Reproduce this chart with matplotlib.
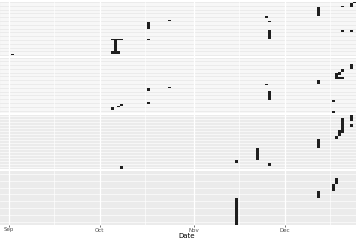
import datetime as dt
import matplotlib
matplotlib.use("Agg")
import matplotlib.pyplot as plt
import matplotlib.dates as mdates

YEAR = 2021

# number of rows (ids) shown in each facet
panel_rows = [40, 40, 18, 8]

# tile runs per facet: (first day, last day, first row, last row)
panel1 = [
    ("09-02", "09-02", 1, 1),
    ("10-05", "10-08", 12, 12),
    ("10-06", "10-06", 4, 11),
    ("10-05", "10-07", 2, 3),
    ("10-17", "10-17", 20, 24),
    ("10-17", "10-17", 12, 12),
    ("10-24", "10-24", 26, 26),
    ("11-25", "11-25", 28, 29),
    ("11-26", "11-26", 25, 25),
    ("11-26", "11-26", 13, 18),
    ("12-12", "12-12", 30, 35),
    ("12-20", "12-20", 36, 36),
    ("12-23", "12-23", 36, 38),
    ("12-24", "12-24", 39, 39),
    ("12-20", "12-20", 18, 18),
    ("12-23", "12-23", 18, 18),
]
panel2 = [
    ("10-17", "10-17", 16, 17),
    ("10-24", "10-24", 18, 18),
    ("10-17", "10-17", 6, 7),
    ("10-05", "10-05", 2, 3),
    ("10-07", "10-07", 4, 4),
    ("10-08", "10-08", 5, 5),
    ("11-25", "11-25", 20, 20),
    ("11-26", "11-26", 9, 15),
    ("12-12", "12-12", 21, 23),
    ("12-18", "12-20", 25, 25),
    ("12-18", "12-18", 25, 28),
    ("12-19", "12-19", 28, 29),
    ("12-20", "12-20", 30, 31),
    ("12-23", "12-23", 32, 35),
    ("12-17", "12-17", 8, 8),
    ("12-17", "12-17", 0, 0),
]
panel3 = [
    ("10-08", "10-08", 0, 0),
    ("11-15", "11-15", 2, 2),
    ("11-22", "11-22", 3, 6),
    ("11-26", "11-26", 1, 1),
    ("12-12", "12-12", 7, 9),
    ("12-18", "12-18", 10, 10),
    ("12-19", "12-19", 11, 12),
    ("12-20", "12-20", 12, 16),
    ("12-23", "12-23", 14, 14),
    ("12-23", "12-23", 16, 17),
]
panel4 = [
    ("11-15", "11-15", 0, 3),
    ("12-12", "12-12", 4, 4),
    ("12-17", "12-17", 5, 5),
    ("12-18", "12-18", 6, 6),
]
panels = [panel1, panel2, panel3, panel4]

month_ticks = ["09-01", "10-01", "11-01", "12-01"]
month_labels = ["Sep", "Oct", "Nov", "Dec"]
mid_months = ["09-16", "10-16", "11-16", "12-16"]


def day(s):
    m, d = s.split("-")
    return mdates.date2num(dt.date(YEAR, int(m), int(d)))


x_lo = day("09-01") - 2.97
x_hi = day("09-01") + 114.5

fig = plt.figure(figsize=(3.6, 2.4), dpi=100)
fig.patch.set_facecolor("white")

W, H = 360.0, 240.0
top, h, gap = 2.0, 54.25, 2.0

for i, (runs, nrow) in enumerate(zip(panels, panel_rows)):
    t = top + i * (h + gap)
    ax = fig.add_axes([0, (H - t - h) / H, 356 / W, h / H])
    ax.set_facecolor("#ebebeb")
    for s in ax.spines.values():
        s.set_visible(False)

    # grid
    for r in range(nrow):
        ax.axhline(r, color="white", lw=0.45, zorder=1)
    for m in month_ticks:
        ax.axvline(day(m), color="white", lw=0.9, zorder=1)
    for m in mid_months:
        ax.axvline(day(m), color="white", lw=0.45, zorder=1)

    for start, end, r0, r1 in runs:
        x0 = day(start) - 0.5
        ax.bar(x0, r1 - r0 + 1, width=day(end) - day(start) + 1,
               bottom=r0 - 0.5, align="edge", color="#1f1f1f",
               linewidth=0, zorder=3)

    ax.set_xlim(x_lo, x_hi)
    ax.set_ylim(-0.5, nrow - 0.5)
    ax.set_yticks([])
    ax.set_xticks([day(m) for m in month_ticks])
    if i == 3:
        ax.set_xticklabels(month_labels)
        ax.tick_params(axis="x", length=1.5, width=0.5, color="#333333",
                       labelsize=4, labelcolor="#4d4d4d", pad=0.3)
    else:
        ax.set_xticklabels([])
        ax.tick_params(axis="x", length=0)

fig.text(187 / W, (H - 236) / H, "Date", fontsize=5, ha="center",
         va="center", color="black")

fig.savefig("out.png", dpi=100)
